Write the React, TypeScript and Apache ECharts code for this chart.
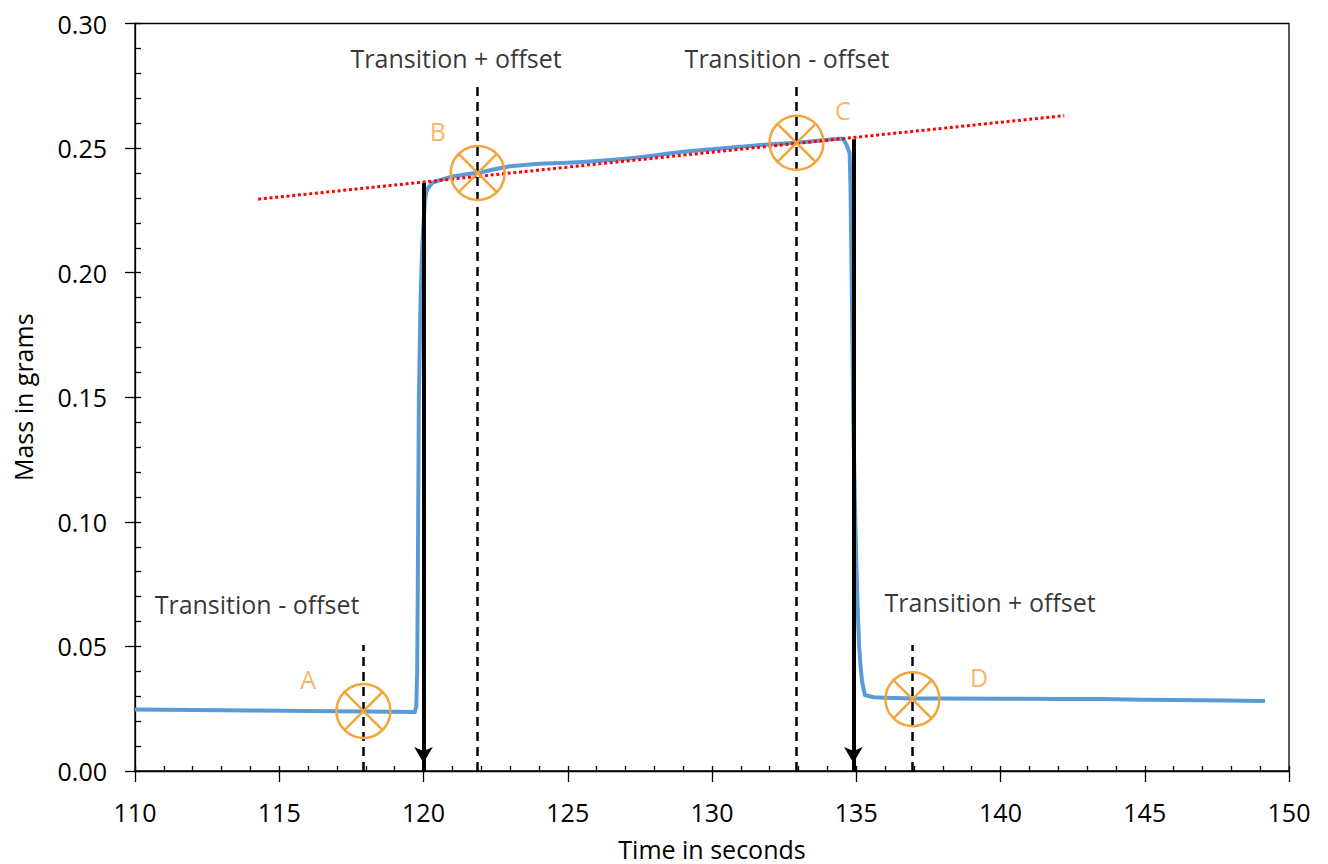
import React, { useEffect, useRef } from 'react';
import * as echarts from 'echarts';

// Measured mass curve (seconds, grams)
const timeSec = [
  110, 112, 114, 116, 118, 119.7, 119.75, 119.78, 119.8, 119.84, 119.9, 119.95, 120.0, 120.05, 120.1, 120.16,
  120.3, 120.5, 120.7, 121, 121.5, 122, 122.5, 123, 123.5, 124, 124.5, 125, 125.5, 126, 126.5, 127, 127.5,
  128, 128.5, 129, 129.5, 130, 130.5, 131, 131.5, 132, 132.5, 133, 133.5, 134, 134.4, 134.55, 134.66, 134.72,
  134.77, 134.8, 134.85, 134.9, 134.95, 135.0, 135.05, 135.1, 135.15, 135.2, 135.3, 135.6, 136, 137, 138, 140,
  142, 143.5, 145, 147, 149.17,
];
const massG = [
  0.0247, 0.0245, 0.0243, 0.0241, 0.0239, 0.0237, 0.026, 0.04, 0.07, 0.15, 0.19, 0.209, 0.22, 0.229, 0.2325, 0.234,
  0.236, 0.2368, 0.2376, 0.2386, 0.2395, 0.2403, 0.2416, 0.2427, 0.2432, 0.2437, 0.2439, 0.2441, 0.2444, 0.2448, 0.2452, 0.2457, 0.2463,
  0.247, 0.2478, 0.2485, 0.249, 0.2495, 0.25, 0.2505, 0.251, 0.2515, 0.2518, 0.2522, 0.2527, 0.2533, 0.2537, 0.2537, 0.2513, 0.2495,
  0.248, 0.235, 0.19, 0.14, 0.11, 0.085, 0.065, 0.05, 0.042, 0.036, 0.0305, 0.0296, 0.0294, 0.0291, 0.0291, 0.029,
  0.0289, 0.0289, 0.0286, 0.0284, 0.0281,
];

// Red dotted trend line
const trendT = [114.27, 142.21];
const trendM = [0.2295, 0.263];

// Black arrows at transitions
const arrowT = [120, 134.9];
const arrowTopM = [0.236, 0.2535];

// Crossed-circle markers and their dashed verticals
const markerNames = ['A', 'B', 'C', 'D'];
const markerT = [117.92, 121.88, 132.93, 136.95];
const markerM = [0.0241, 0.24, 0.2521, 0.0288];
const dashTopM = [0.0506, 0.2763, 0.2763, 0.0506];
const letterT = [116.0, 120.5, 134.54, 139.26];
const letterM = [0.0369, 0.257, 0.2654, 0.0377];

// Annotation texts
const noteTexts = ['Transition - offset', 'Transition + offset', 'Transition - offset', 'Transition + offset'];
const noteT = [114.23, 121.13, 132.6, 139.64];
const noteM = [0.067, 0.2862, 0.2862, 0.0678];

// Axes
const xMin = 110;
const xMax = 150;
const xStep = 5;
const yMin = 0;
const yMax = 0.3;
const yStep = 0.05;

const FONT = 'Open Sans';
const FS = 25;
const ORANGE = '#F4A43C';
const BLUE = '#5B9BD5';

export default function App() {
  const ref = useRef<HTMLDivElement>(null);
  useEffect(() => {
    document.body.style.margin = '0';
    const chart = echarts.init(ref.current!, null, { renderer: 'svg' });
    const curve = timeSec.map((t, i) => [t, massG[i]]);
    const trend = trendT.map((t, i) => [t, trendM[i]]);
    const markers = markerT.map((t, i) => [t, markerM[i]]);
    const letters = letterT.map((t, i) => ({ name: markerNames[i], value: [t, letterM[i]] }));
    const notes = noteT.map((t, i) => ({ name: noteTexts[i], value: [t, noteM[i]] }));
    const dashLines = markerT.map((t, i) => [{ coord: [t, 0] }, { coord: [t, dashTopM[i]] }]);
    const arrowLines = arrowT.map((t, i) => [{ coord: [t, arrowTopM[i]] }, { coord: [t, 0] }]);

    const xCommon = { type: 'value', min: xMin, max: xMax, interval: xStep, position: 'bottom', splitLine: { show: false } };
    const yCommon = { type: 'value', min: yMin, max: yMax, interval: yStep, position: 'left', splitLine: { show: false } };

    chart.setOption({
      animation: false,
      textStyle: { fontFamily: FONT },
      grid: {
        left: 135, right: 39, top: 23.5, bottom: 93,
        outerBoundsMode: 'none', containLabel: false,
        show: true, borderColor: '#000', borderWidth: 1.3, backgroundColor: 'transparent',
      },
      xAxis: [
        {
          ...xCommon,
          name: 'Time in seconds',
          nameLocation: 'middle',
          nameGap: 65,
          nameTextStyle: { fontFamily: FONT, fontSize: FS, color: '#000' },
          axisLine: { show: true, lineStyle: { color: '#000', width: 1.3 } },
          axisTick: { show: true, inside: false, length: 11, lineStyle: { color: '#000', width: 1.3 } },
          axisLabel: { fontFamily: FONT, fontSize: FS, color: '#000', margin: 28 },
        },
        {
          ...xCommon,
          axisLine: { show: false },
          axisTick: { show: true, inside: true, length: 5, lineStyle: { color: '#000', width: 1.3 } },
          minorTick: { show: true, splitNumber: 5, length: 5, lineStyle: { color: '#000', width: 1.3 } },
          axisLabel: { show: false },
        },
      ],
      yAxis: [
        {
          ...yCommon,
          name: 'Mass in grams',
          nameLocation: 'middle',
          nameGap: 100,
          nameRotate: 90,
          nameTextStyle: { fontFamily: FONT, fontSize: FS, color: '#000' },
          axisLine: { show: true, lineStyle: { color: '#000', width: 1.3 } },
          axisTick: { show: true, inside: false, length: 10, lineStyle: { color: '#000', width: 1.3 } },
          axisLabel: { fontFamily: FONT, fontSize: FS, color: '#000', margin: 28, formatter: (v: number) => v.toFixed(2) },
        },
        {
          ...yCommon,
          axisLine: { show: false },
          axisTick: { show: true, inside: true, length: 6, lineStyle: { color: '#000', width: 1.3 } },
          minorTick: { show: true, splitNumber: 5, length: 6, lineStyle: { color: '#000', width: 1.3 } },
          axisLabel: { show: false },
        },
      ],
      series: [
        {
          type: 'line',
          name: 'dashes',
          data: [],
          silent: true,
          markLine: {
            silent: true,
            symbol: ['none', 'none'],
            label: { show: false },
            lineStyle: { color: '#000', width: 2.5, type: [9, 6] },
            data: dashLines,
          },
        },
        {
          type: 'line',
          name: 'mass',
          data: curve,
          showSymbol: false,
          symbol: 'none',
          lineStyle: { color: BLUE, width: 4, join: 'round' },
          z: 3,
        },
        {
          type: 'line',
          name: 'trend',
          data: trend,
          showSymbol: false,
          symbol: 'none',
          lineStyle: { color: '#FF0000', width: 3, type: [3, 2.7] },
          z: 4,
        },
        {
          type: 'line',
          name: 'arrows',
          data: [],
          markLine: {
            silent: true,
            symbol: ['none', 'arrow'],
            symbolSize: [14, 16],
            symbolOffset: [[0, 0], [0, 8]],
            label: { show: false },
            lineStyle: { color: '#000', width: 4, type: 'solid' },
            data: arrowLines,
          },
          z: 5,
        },
        {
          type: 'custom',
          name: 'markers',
          data: markers,
          z: 6,
          renderItem: (params: any, api: any) => {
            const p = api.coord([api.value(0), api.value(1)]);
            const r = 27;
            const d = r * Math.SQRT1_2;
            const st = { stroke: ORANGE, lineWidth: 2.5, fill: 'none' };
            return {
              type: 'group',
              children: [
                { type: 'circle', shape: { cx: p[0], cy: p[1], r }, style: st },
                { type: 'line', shape: { x1: p[0] - d, y1: p[1] - d, x2: p[0] + d, y2: p[1] + d }, style: st },
                { type: 'line', shape: { x1: p[0] + d, y1: p[1] - d, x2: p[0] - d, y2: p[1] + d }, style: st },
              ],
            };
          },
        },
        {
          type: 'scatter',
          name: 'letters',
          data: letters,
          symbolSize: 0,
          silent: true,
          label: {
            show: true,
            position: 'inside',
            formatter: '{b}',
            fontFamily: FONT,
            fontSize: FS,
            color: ORANGE,
          },
        },
        {
          type: 'scatter',
          name: 'notes',
          data: notes,
          symbolSize: 0,
          silent: true,
          label: {
            show: true,
            position: 'inside',
            formatter: '{b}',
            fontFamily: FONT,
            fontSize: FS,
            color: '#000',
          },
        },
      ],
    });
    return () => chart.dispose();
  }, []);
  return <div ref={ref} style={{ position: 'absolute', left: 0, top: 0, width: 1328, height: 864 }} />;
}
